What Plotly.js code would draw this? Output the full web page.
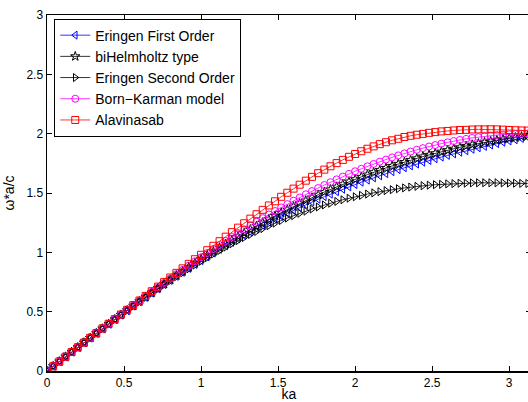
<!DOCTYPE html>
<html>
<head>
<meta charset="utf-8">
<script src="https://cdn.plot.ly/plotly-3.0.1.min.js"></script>
<style>
html,body{margin:0;padding:0;overflow:hidden;background:#fff;}
#chart{width:532px;height:402px;}
</style>
</head>
<body>
<div id="chart"></div>
<script>
// ka values (x axis)
const ka = [0,0.04,0.08,0.12,0.16,0.20,0.24,0.28,0.32,0.36,0.40,0.44,0.48,0.52,0.56,0.60,0.64,0.68,0.72,0.76,0.80,0.84,0.88,0.92,0.96,1.00,1.04,1.08,1.12,1.16,1.20,1.24,1.28,1.32,1.36,1.40,1.44,1.48,1.52,1.56,1.60,1.64,1.68,1.72,1.76,1.80,1.84,1.88,1.92,1.96,2.00,2.04,2.08,2.12,2.16,2.20,2.24,2.28,2.32,2.36,2.40,2.44,2.48,2.52,2.56,2.60,2.64,2.68,2.72,2.76,2.80,2.84,2.88,2.92,2.96,3.00,3.04,3.08,3.12];

// omega*a/c
const eringenFirst = [0,0.040,0.080,0.120,0.160,0.199,0.239,0.278,0.317,0.356,0.395,0.434,0.472,0.509,0.547,0.584,0.621,0.657,0.693,0.728,0.763,0.798,0.832,0.865,0.898,0.930,0.962,0.994,1.025,1.055,1.085,1.114,1.143,1.171,1.199,1.226,1.253,1.279,1.304,1.329,1.354,1.378,1.401,1.424,1.447,1.469,1.490,1.511,1.532,1.552,1.571,1.591,1.609,1.628,1.645,1.663,1.680,1.697,1.713,1.729,1.744,1.760,1.774,1.789,1.803,1.817,1.830,1.844,1.856,1.869,1.881,1.893,1.905,1.916,1.928,1.939,1.949,1.960,1.970];

const biHelmholtz = [0,0.040,0.080,0.120,0.160,0.199,0.239,0.278,0.318,0.357,0.396,0.435,0.473,0.511,0.549,0.587,0.624,0.661,0.698,0.734,0.769,0.805,0.840,0.874,0.908,0.942,0.975,1.008,1.040,1.071,1.103,1.133,1.163,1.193,1.223,1.251,1.279,1.307,1.334,1.360,1.386,1.412,1.436,1.461,1.485,1.508,1.530,1.553,1.574,1.596,1.616,1.636,1.655,1.675,1.693,1.711,1.728,1.745,1.761,1.777,1.792,1.807,1.821,1.835,1.848,1.861,1.873,1.885,1.896,1.907,1.917,1.927,1.936,1.945,1.954,1.961,1.968,1.976,1.982];

const eringenSecond = [0,0.040,0.080,0.120,0.160,0.199,0.239,0.278,0.317,0.356,0.395,0.433,0.471,0.509,0.546,0.583,0.620,0.656,0.691,0.726,0.761,0.795,0.828,0.861,0.893,0.925,0.955,0.986,1.015,1.044,1.072,1.099,1.125,1.151,1.176,1.200,1.224,1.246,1.268,1.289,1.309,1.329,1.347,1.365,1.382,1.399,1.414,1.429,1.443,1.456,1.468,1.480,1.491,1.501,1.511,1.520,1.528,1.536,1.543,1.550,1.556,1.561,1.566,1.570,1.573,1.577,1.579,1.582,1.583,1.585,1.586,1.586,1.586,1.586,1.585,1.584,1.583,1.581,1.580];

const bornKarman = [0,0.040,0.080,0.120,0.160,0.200,0.239,0.279,0.319,0.358,0.397,0.436,0.475,0.514,0.553,0.591,0.629,0.667,0.705,0.742,0.779,0.816,0.852,0.888,0.924,0.959,0.994,1.028,1.062,1.096,1.129,1.162,1.194,1.226,1.258,1.288,1.319,1.348,1.378,1.406,1.435,1.462,1.489,1.516,1.542,1.567,1.591,1.615,1.638,1.661,1.683,1.704,1.725,1.745,1.764,1.782,1.800,1.817,1.834,1.849,1.864,1.878,1.892,1.904,1.916,1.927,1.938,1.947,1.956,1.964,1.971,1.977,1.983,1.988,1.992,1.995,1.997,1.999,2.000];

const alavinasab = [0,0.040,0.080,0.120,0.160,0.200,0.239,0.279,0.319,0.359,0.398,0.437,0.476,0.516,0.555,0.594,0.633,0.672,0.711,0.749,0.788,0.827,0.865,0.903,0.942,0.979,1.018,1.055,1.094,1.132,1.170,1.208,1.245,1.284,1.321,1.358,1.395,1.430,1.468,1.502,1.537,1.570,1.604,1.636,1.667,1.697,1.725,1.752,1.779,1.805,1.829,1.852,1.873,1.893,1.912,1.928,1.944,1.957,1.972,1.982,1.991,1.998,2.007,2.013,2.019,2.023,2.027,2.031,2.032,2.035,2.036,2.036,2.037,2.036,2.034,2.031,2.029,2.027,2.026];

const seriesNames = ['Eringen First Order','biHelmholtz type','Eringen Second Order','Born\u2212Karman model','Alavinasab'];
const xTicks = [0,0.5,1,1.5,2,2.5,3];
const yTicks = [0,0.5,1,1.5,2,2.5,3];

function tr(y, name, color, symbol){
  return {x: ka, y: y, name: name, type:'scatter', mode:'lines+markers',
    line:{color:color, width:0.8},
    marker:{symbol:symbol, size:7, color:color, line:{color:color, width:1}}};
}

const data = [
  tr(eringenFirst, seriesNames[0], '#0000ff', 'triangle-left-open'),
  tr(biHelmholtz, seriesNames[1], '#000000', 'star-open'),
  tr(eringenSecond, seriesNames[2], '#000000', 'triangle-right-open'),
  tr(bornKarman, seriesNames[3], '#ff00ff', 'circle-open'),
  tr(alavinasab, seriesNames[4], '#ff0000', 'square-open')
];

const axisCommon = {
  showgrid:false, zeroline:false, showline:true, linecolor:'#000', linewidth:1.5,
  mirror:'ticks', ticks:'inside', ticklen:5, tickcolor:'#000', tickwidth:1,
  tickfont:{family:'Liberation Sans, Arial, sans-serif', size:12, color:'#000'}
};

const layout = {
  width:532, height:402,
  margin:{l:47, r:1, t:15, b:31},
  paper_bgcolor:'#fff', plot_bgcolor:'#fff',
  font:{family:'Liberation Sans, Arial, sans-serif', color:'#000'},
  xaxis: Object.assign({}, axisCommon, {range:[0, Math.PI], tickvals:xTicks, ticktext:['0','0.5','1','1.5','2','2.5','3'],
    automargin:false, title:{text:'ka', font:{size:14}, standoff:3}}),
  yaxis: Object.assign({}, axisCommon, {range:[0,3], tickvals:yTicks, ticktext:['0','0.5','1','1.5','2','2.5','3'],
    automargin:false, title:{text:'\u03c9*a/c', font:{size:14}, standoff:8}}),
  showlegend:true,
  legend:{x:0.015, y:0.99, xanchor:'left', yanchor:'top', bgcolor:'#fff', bordercolor:'#000', borderwidth:1,
    font:{size:14, family:'Liberation Sans, Arial, sans-serif'}, tracegroupgap:0, itemwidth:30}
};

Plotly.newPlot('chart', data, layout, {displayModeBar:false, staticPlot:true});
</script>
</body>
</html>
